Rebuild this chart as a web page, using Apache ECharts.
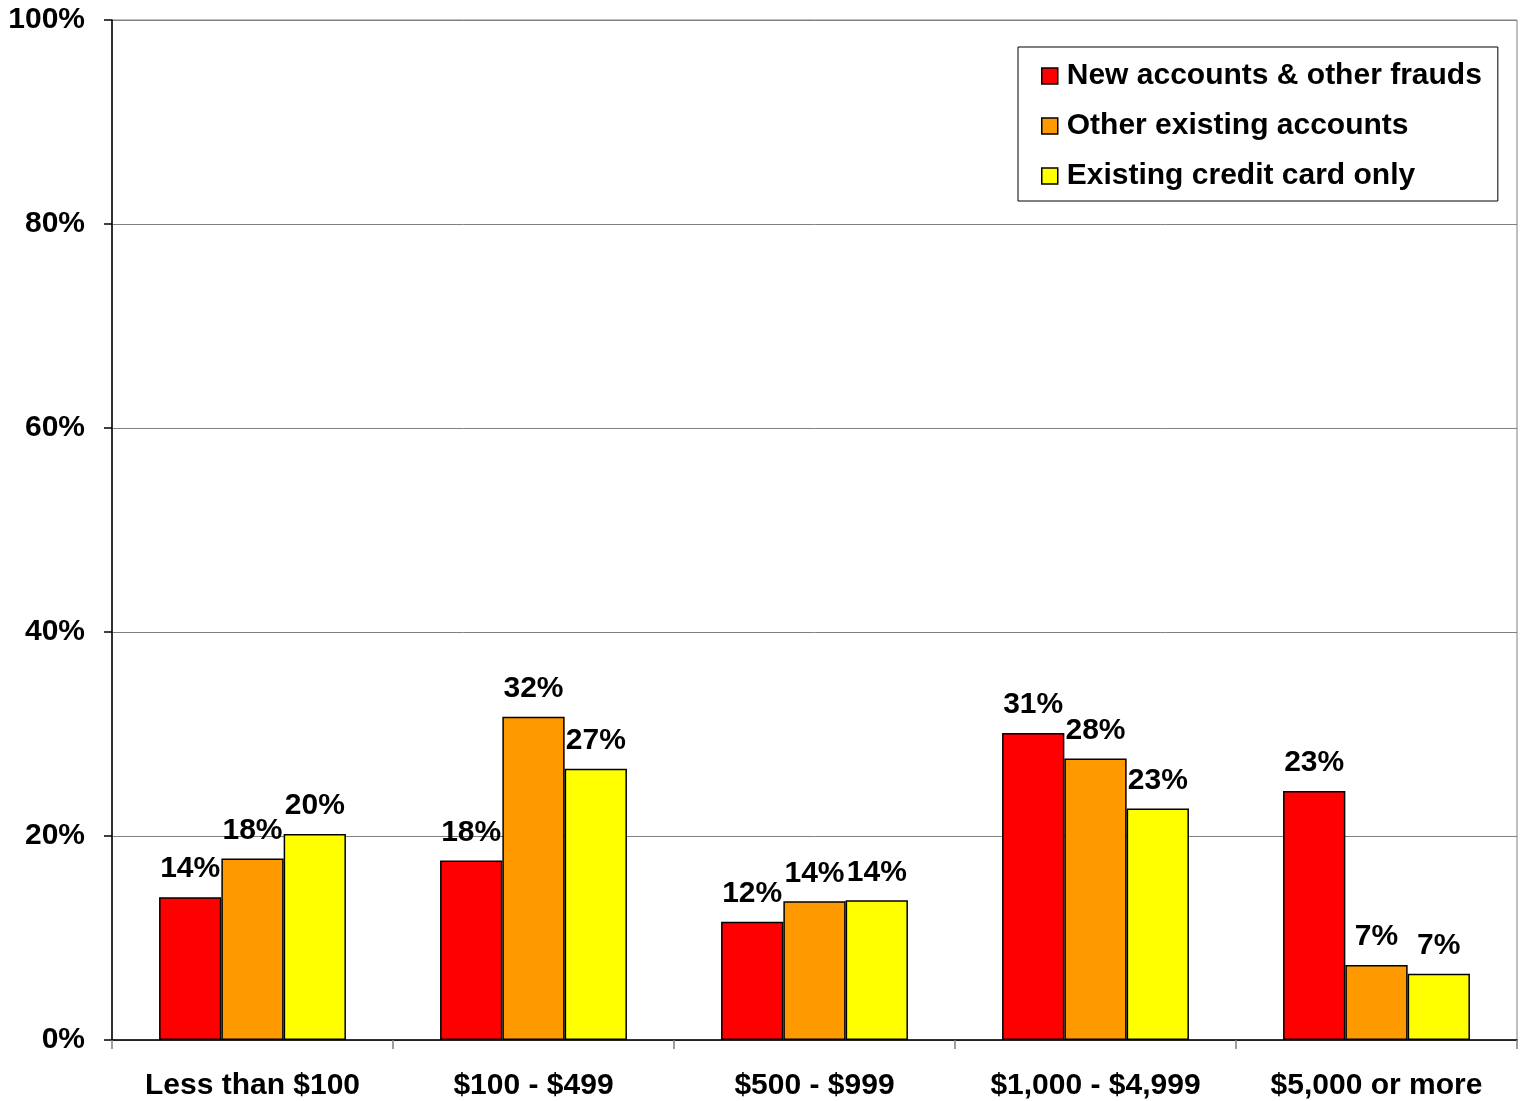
<!DOCTYPE html>
<html>
<head>
<meta charset="utf-8">
<script src="https://cdn.jsdelivr.net/npm/echarts@6/dist/echarts.min.js"></script>
<style>
html,body{margin:0;padding:0;background:#fff;}
#chart{width:1524px;height:1101px;}
</style>
</head>
<body>
<div id="chart"></div>
<script>
const categories = ['Less than $100', '$100 - $499', '$500 - $999', '$1,000 - $4,999', '$5,000 or more'];
const seriesNames = ['New accounts & other frauds', 'Other existing accounts', 'Existing credit card only'];
const newAccounts = [14.0, 17.6, 11.6, 30.1, 24.4];
const newAccountsLabels = [14, 18, 12, 31, 23];
const otherExisting = [17.8, 31.7, 13.6, 27.6, 7.35];
const otherExistingLabels = [18, 32, 14, 28, 7];
const creditCard = [20.2, 26.6, 13.7, 22.7, 6.5];
const creditCardLabels = [20, 27, 14, 23, 7];
const yTicks = [0, 20, 40, 60, 80, 100];
const colors = ['#FF0000', '#FF9900', '#FFFF00'];

const font = '"Liberation Sans", Arial, sans-serif';

function makeSeries(name, values, labels, color) {
  return {
    name: name,
    type: 'bar',
    barGap: '0%',
    barCategoryGap: '33.5%',
    data: values.map((v, i) => ({ value: v, labelText: labels[i] })),
    itemStyle: { color: color, borderColor: '#000', borderWidth: 1.5 },
    label: {
      show: true,
      position: 'top',
      distance: 13,
      formatter: p => p.data.labelText + '%',
      color: '#000',
      fontFamily: font,
      fontWeight: 'bold',
      fontSize: 30
    },
    emphasis: { disabled: true }
  };
}

const chart = echarts.init(document.getElementById('chart'), null, { renderer: 'canvas' });
chart.setOption({
  animation: false,
  backgroundColor: '#fff',
  grid: {
    left: 112, right: 7, top: 20, bottom: 61,
    show: true, borderColor: '#808080', borderWidth: 1, backgroundColor: 'transparent'
  },
  legend: {
    left: 1018, top: 47,
    orient: 'vertical',
    data: seriesNames,
    backgroundColor: '#fff',
    borderColor: '#000',
    borderWidth: 1,
    padding: [14, 16, 10, 23],
    itemWidth: 16, itemHeight: 16,
    itemGap: 20,
    icon: 'rect',
    itemStyle: { borderColor: '#000', borderWidth: 1.5 },
    textStyle: { fontFamily: font, fontWeight: 'bold', fontSize: 30, color: '#000', padding: [0, 0, 0, 4] },
    selectedMode: false
  },
  xAxis: {
    type: 'category',
    data: categories,
    axisLine: { lineStyle: { color: '#000', width: 1.5 } },
    axisTick: { show: true, length: 9, lineStyle: { color: '#808080', width: 1.5 } },
    axisLabel: { margin: 31, color: '#000', fontFamily: font, fontWeight: 'bold', fontSize: 30 }
  },
  yAxis: {
    type: 'value',
    min: 0, max: 100, interval: 20,
    axisLine: { show: true, lineStyle: { color: '#000', width: 1.5 } },
    axisTick: { show: true, length: 8, lineStyle: { color: '#000', width: 1.5 } },
    splitLine: { show: true, lineStyle: { color: '#808080', width: 1 } },
    axisLabel: {
      margin: 27, color: '#000', fontFamily: font, fontWeight: 'bold', fontSize: 30,
      formatter: v => (yTicks.indexOf(v) >= 0 ? v + '%' : '')
    }
  },
  series: [
    makeSeries(seriesNames[0], newAccounts, newAccountsLabels, colors[0]),
    makeSeries(seriesNames[1], otherExisting, otherExistingLabels, colors[1]),
    makeSeries(seriesNames[2], creditCard, creditCardLabels, colors[2])
  ]
});
</script>
</body>
</html>
